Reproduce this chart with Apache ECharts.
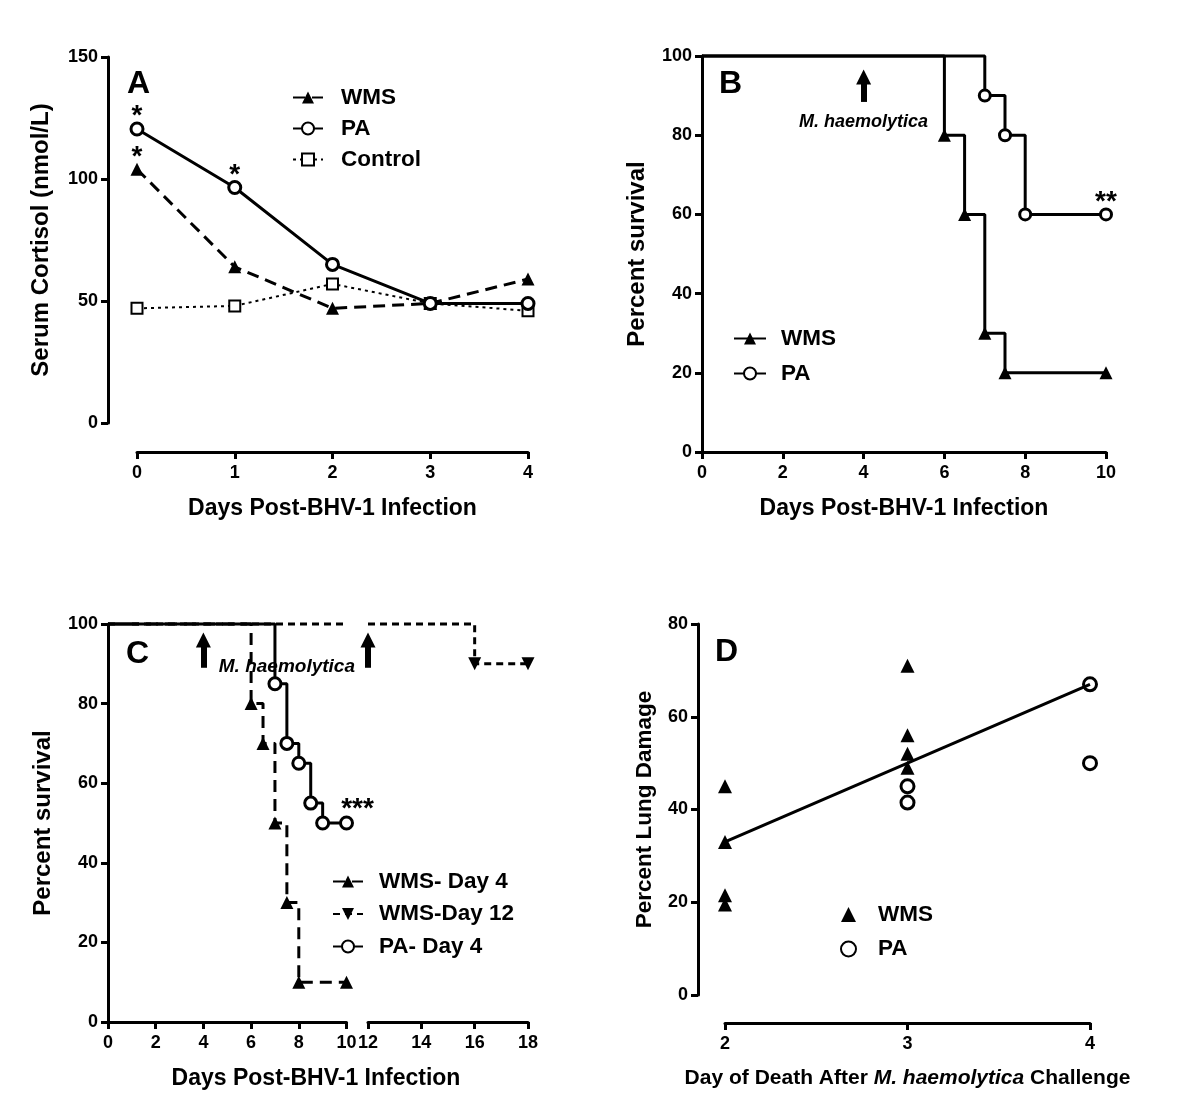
<!DOCTYPE html>
<html><head><meta charset="utf-8">
<script src="https://cdn.jsdelivr.net/npm/echarts@6/dist/echarts.min.js"></script>
<style>html,body{margin:0;padding:0;background:#fff}#c{width:1200px;height:1111px}</style>
</head><body><div id="c"></div>
<script>
// ---------- Panel A : serum cortisol ----------
const daysA = [0, 1, 2, 3, 4];
const wmsA = [104, 64, 47, 49, 59];
const paA = [120.5, 96.5, 65, 49, 49];
const controlA = [47, 48, 57, 49, 46];
const starsA_wms = ['*', '', '', '', ''];
const starsA_pa = ['*', '*', '', '', ''];

// ---------- Panel B : survival ----------
const wmsB_x = [0, 6, 6.5, 7, 7.5, 10];
const wmsB_y = [100, 80, 60, 30, 20, 20];
const paB_x = [0, 7, 7.5, 8, 10];
const paB_y = [100, 90, 80, 60, 60];
const starsB_pa = ['', '', '', '', '**'];
const arrowB = [[4, 88.4], [4, 94.7]];
const noteB = [4, 83.3];

// ---------- Panel C : survival, broken axis ----------
const wmsD4_x = [0, 6, 6.5, 7, 7.5, 8, 10];
const wmsD4_y = [100, 80, 70, 50, 30, 10, 10];
const wmsD12a_x = [0, 10];
const wmsD12a_y = [100, 100];
const wmsD12b_x = [12, 16, 18];
const wmsD12b_y = [100, 90, 90];
const paD4_x = [0, 7, 7.5, 8, 8.5, 9, 10];
const paD4_y = [100, 85, 70, 65, 55, 50, 50];
const starsC_pa = ['', '', '', '', '', '', '***'];
const arrowC1 = [[4, 89], [4, 96]];
const arrowC2 = [[12, 89], [12, 96]];
const noteC = [7.5, 89.2];

// ---------- Panel D : lung damage ----------
const wmsDD_x = [2, 2, 2, 2, 3, 3, 3, 3];
const wmsDD_y = [45, 33, 21.5, 19.5, 71, 56, 52, 49];
const paDD_x = [3, 3, 4, 4];
const paDD_y = [45, 41.5, 67, 50];
const fitD_x = [2, 4];
const fitD_y = [33, 67];

const F = '"Liberation Sans", Arial, Helvetica, sans-serif';
const BLACK = '#000';

function pts(xs, ys) { return xs.map((x, i) => [x, ys[i]]); }
function starLabel(txt, offset) {
  return { show: true, formatter: txt, position: 'top', distance: 0, offset: offset || [0, 9],
    color: BLACK, fontSize: 28, fontWeight: 'bold', fontFamily: F };
}
function km(xs, ys, stars, starOffset) {
  return xs.map((x, i) => {
    const item = { value: [x, ys[i]] };
    if (i === 0) item.symbol = 'none';
    if (stars && stars[i]) item.label = starLabel(stars[i], starOffset);
    return item;
  });
}
function withStars(xs, ys, stars) {
  return xs.map((x, i) => stars[i] ? { value: [x, ys[i]], label: starLabel(stars[i]) } : [x, ys[i]]);
}

const axisLine = { show: true, onZero: false, lineStyle: { color: BLACK, width: 3 } };
const axisTick = { show: true, length: 7, lineStyle: { color: BLACK, width: 3 } };
const axisLabel = { color: BLACK, fontSize: 18, fontWeight: 'bold', fontFamily: F, margin: 12 };
const xName = { color: BLACK, fontSize: 23, fontWeight: 'bold', fontFamily: F };
const yName = { color: BLACK, fontSize: 24, fontWeight: 'bold', fontFamily: F };

function xAx(o) {
  return Object.assign({ type: 'value', axisLine, axisTick, axisLabel, splitLine: { show: false },
    nameLocation: 'middle', nameTextStyle: xName, nameMoveOverlap: false }, o);
}
function yAx(o) {
  return Object.assign({ type: 'value', axisLine, axisTick,
    axisLabel: Object.assign({}, axisLabel, { margin: 10 }), splitLine: { show: false },
    nameLocation: 'middle', nameTextStyle: yName, nameMoveOverlap: false }, o);
}

const openCircle = (size) => ({ symbol: 'circle', symbolSize: size,
  itemStyle: { color: '#fff', borderColor: BLACK, borderWidth: 3, opacity: 1 } });
const triangle = (size, rot) => ({ symbol: 'triangle', symbolSize: size, symbolRotate: rot || 0,
  itemStyle: { color: BLACK, borderWidth: 0, opacity: 1 } });

const arrowLine = (seg) => ({
  silent: true, symbol: ['none', 'triangle'], symbolSize: 15,
  label: { show: false }, lineStyle: { color: BLACK, width: 6, type: 'solid', opacity: 1 },
  itemStyle: { color: BLACK },
  emphasis: { disabled: true },
  data: [[{ coord: seg[0] }, { coord: seg[1] }]]
});
const note = (c, size) => ({
  silent: true, symbol: 'circle', symbolSize: 1, itemStyle: { color: 'rgba(0,0,0,0)' },
  label: { show: true, position: 'inside', formatter: 'M. haemolytica', color: BLACK,
    fontStyle: 'italic', fontWeight: 'bold', fontSize: size, fontFamily: F },
  data: [{ coord: c }]
});

const legendBase = {
  orient: 'vertical', selectedMode: false, itemHeight: 15, padding: 0,
  formatter: (n) => n.split('_')[0],
  textStyle: { color: BLACK, fontSize: 22.5, fontWeight: 'bold', fontFamily: F }
};
function legend(o, pad) {
  const l = Object.assign({}, legendBase, o);
  l.textStyle = Object.assign({}, legendBase.textStyle, { padding: [0, 0, 0, pad] });
  return l;
}

const option = {
  animation: false,
  backgroundColor: '#fff',
  grid: [
    { left: 137, top: 57, width: 391, height: 366, outerBoundsMode: 'none' },
    { left: 702, top: 56, width: 404, height: 396, outerBoundsMode: 'none' },
    { left: 108, top: 624, width: 238.5, height: 398, outerBoundsMode: 'none' },
    { left: 368, top: 624, width: 160, height: 398, outerBoundsMode: 'none' },
    { left: 725, top: 624, width: 365, height: 371, outerBoundsMode: 'none' }
  ],
  xAxis: [
    xAx({ gridIndex: 0, min: 0, max: 4, interval: 1, offset: 29, name: 'Days Post-BHV-1 Infection', nameGap: 45 }),
    xAx({ gridIndex: 1, min: 0, max: 10, interval: 2, name: 'Days Post-BHV-1 Infection', nameGap: 45 }),
    xAx({ gridIndex: 2, min: 0, max: 10, interval: 2 }),
    xAx({ gridIndex: 3, min: 12, max: 18, interval: 2 }),
    xAx({ gridIndex: 4, min: 2, max: 4, interval: 1, offset: 28, nameGap: 45,
      name: '{n|Day of Death After }{i|M. haemolytica}{n| Challenge}',
      nameTextStyle: Object.assign({}, xName, { fontSize: 21, rich: {
        n: { color: BLACK, fontSize: 21, fontWeight: 'bold', fontFamily: F },
        i: { color: BLACK, fontSize: 21, fontWeight: 'bold', fontStyle: 'italic', fontFamily: F } } }) })
  ],
  yAxis: [
    yAx({ gridIndex: 0, min: 0, max: 150, interval: 50, offset: 29, name: 'Serum Cortisol (nmol/L)', nameGap: 55 }),
    yAx({ gridIndex: 1, min: 0, max: 100, interval: 20, name: 'Percent survival', nameGap: 53 }),
    yAx({ gridIndex: 2, min: 0, max: 100, interval: 20, name: 'Percent survival', nameGap: 53 }),
    yAx({ gridIndex: 3, min: 0, max: 100, interval: 20, show: false }),
    yAx({ gridIndex: 4, min: 0, max: 80, interval: 20, offset: 27, name: 'Percent Lung Damage', nameGap: 42,
      nameTextStyle: Object.assign({}, yName, { fontSize: 22.5 }) })
  ],
  legend: [
    legend({ left: 292, top: 86, itemWidth: 30, itemGap: 8, data: ['WMS', 'PA', 'Control'] }, 13),
    legend({ left: 733, top: 327, itemWidth: 32, itemGap: 12, data: ['WMS_B', 'PA_B'] }, 10),
    legend({ left: 332, top: 870, itemWidth: 30, itemGap: 9.5, data: ['WMS- Day 4', 'WMS-Day 12', 'PA- Day 4'] }, 11),
    legend({ left: 840, top: 903, itemWidth: 15, itemHeight: 15, itemGap: 11.5, data: ['WMS_D', 'PA_D'] }, 17)
  ],
  graphic: [
    { type: 'text', left: 127, top: 68, style: { text: 'A', font: 'bold 32px ' + F, fill: BLACK } },
    { type: 'text', left: 719, top: 68, style: { text: 'B', font: 'bold 32px ' + F, fill: BLACK } },
    { type: 'text', left: 126, top: 638, style: { text: 'C', font: 'bold 32px ' + F, fill: BLACK } },
    { type: 'text', left: 715, top: 636, style: { text: 'D', font: 'bold 32px ' + F, fill: BLACK } },
    { type: 'text', x: 316, y: 1079, style: { text: 'Days Post-BHV-1 Infection', font: 'bold 23px ' + F,
      fill: BLACK, align: 'center', verticalAlign: 'middle' } }
  ],
  series: [
    // ---- A ----
    Object.assign({ type: 'line', name: 'Control', xAxisIndex: 0, yAxisIndex: 0, clip: false,
      data: pts(daysA, controlA), lineStyle: { color: BLACK, width: 2, type: [3, 4] } },
      { symbol: 'rect', symbolSize: 11, itemStyle: { color: '#fff', borderColor: BLACK, borderWidth: 2 } }),
    Object.assign({ type: 'line', name: 'WMS', xAxisIndex: 0, yAxisIndex: 0, clip: false,
      data: withStars(daysA, wmsA, starsA_wms), lineStyle: { color: BLACK, width: 3, type: [12, 7] } }, triangle(13)),
    Object.assign({ type: 'line', name: 'PA', xAxisIndex: 0, yAxisIndex: 0, clip: false,
      data: withStars(daysA, paA, starsA_pa), lineStyle: { color: BLACK, width: 3 } }, openCircle(12)),
    // ---- B ----
    Object.assign({ type: 'line', name: 'WMS_B', xAxisIndex: 1, yAxisIndex: 1, step: 'end', clip: false,
      data: km(wmsB_x, wmsB_y), lineStyle: { color: BLACK, width: 3 } }, triangle(13)),
    Object.assign({ type: 'line', name: 'PA_B', xAxisIndex: 1, yAxisIndex: 1, step: 'end', clip: false,
      data: km(paB_x, paB_y, starsB_pa), lineStyle: { color: BLACK, width: 3 },
      markLine: arrowLine(arrowB), markPoint: note(noteB, 18) }, openCircle(11)),
    // ---- C ----
    Object.assign({ type: 'line', name: 'WMS-Day 12', xAxisIndex: 3, yAxisIndex: 3, step: 'end', clip: false,
      data: km(wmsD12b_x, wmsD12b_y), lineStyle: { color: BLACK, width: 3, type: [7, 5] },
      markLine: arrowLine(arrowC2) }, triangle(13, 180)),
    { type: 'line', name: 'WMS-Day 12', xAxisIndex: 2, yAxisIndex: 2, clip: false, symbol: 'none',
      data: pts(wmsD12a_x, wmsD12a_y), lineStyle: { color: BLACK, width: 3, type: [7, 5] } },
    Object.assign({ type: 'line', name: 'WMS- Day 4', xAxisIndex: 2, yAxisIndex: 2, step: 'end', clip: false,
      data: km(wmsD4_x, wmsD4_y), lineStyle: { color: BLACK, width: 3, type: [12, 7] },
      markLine: arrowLine(arrowC1), markPoint: note(noteC, 19) }, triangle(13)),
    Object.assign({ type: 'line', name: 'PA- Day 4', xAxisIndex: 2, yAxisIndex: 2, step: 'end', clip: false,
      data: km(paD4_x, paD4_y, starsC_pa, [11, 8]), lineStyle: { color: BLACK, width: 3 } }, openCircle(12)),
    // ---- D ----
    { type: 'line', name: 'fit', xAxisIndex: 4, yAxisIndex: 4, symbol: 'none', clip: false,
      data: pts(fitD_x, fitD_y), lineStyle: { color: BLACK, width: 3 } },
    Object.assign({ type: 'scatter', name: 'WMS_D', xAxisIndex: 4, yAxisIndex: 4, clip: false,
      data: pts(wmsDD_x, wmsDD_y) }, triangle(14)),
    Object.assign({ type: 'scatter', name: 'PA_D', xAxisIndex: 4, yAxisIndex: 4, clip: false,
      data: pts(paDD_x, paDD_y) }, openCircle(13))
  ]
};

const chart = echarts.init(document.getElementById('c'), null, { renderer: 'canvas' });
chart.setOption(option);
</script></body></html>
